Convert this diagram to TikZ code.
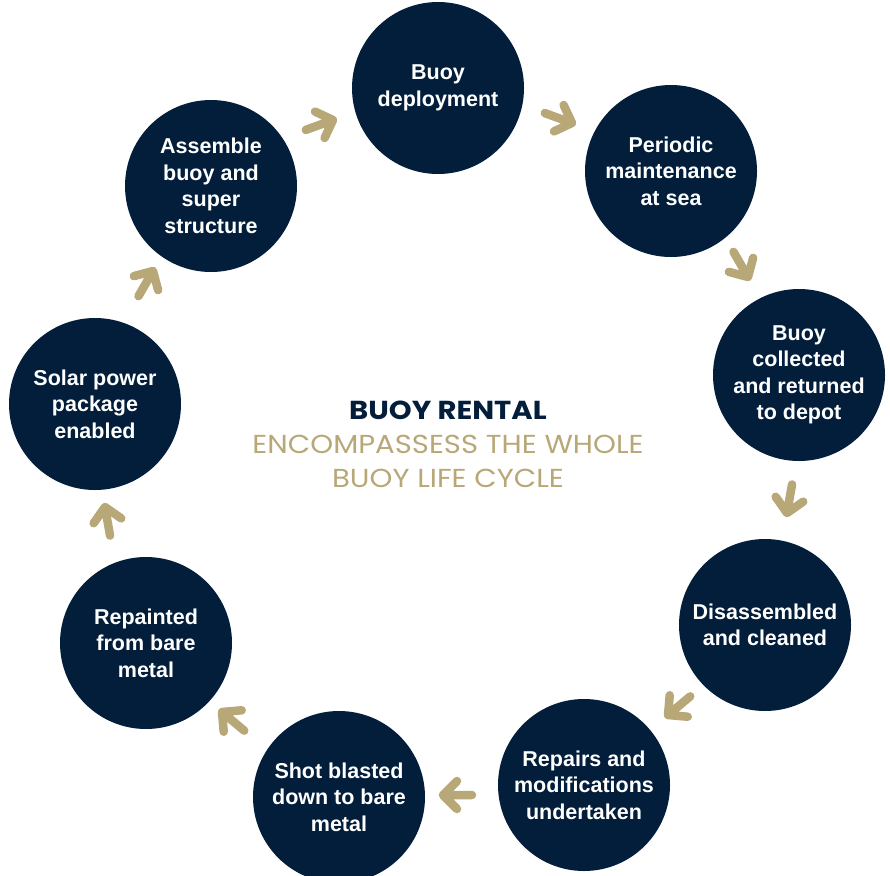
\documentclass[tikz,border=0pt]{standalone}
\usepackage{fontspec}
\setmainfont{Liberation Sans}
\newfontfamily\headfont{Poppins}
\definecolor{navy}{HTML}{021E3A}
\definecolor{tan}{HTML}{B8A878}
\tikzset{
  stage/.style={circle, fill=navy, minimum size=172pt, inner sep=0pt,
    text=white, align=center, font=\fontsize{21.5}{26.5}\selectfont\bfseries},
  chevline/.style={draw=tan, line width=8.5pt, line cap=round, line join=round},
  chev/.pic={\draw[chevline] (-29,0) -- (0,0) (-14,14) -- (0,0) -- (-14,-14);}
}
\begin{document}
\begin{tikzpicture}[x=1pt,y=-1pt]
\useasboundingbox (0,0) rectangle (890,875);
\fill[white] (0,0) rectangle (890,875);
\node[stage] (deploy) at (438,88) {Buoy\\deployment};
\node[stage] (maint) at (671,171) {Periodic\\maintenance\\at sea};
\node[stage] (collect) at (799,375) {Buoy\\collected\\and returned\\to depot};
\node[stage] (disas) at (765,625) {Disassembled\\and cleaned};
\node[stage] (repair) at (584,785) {Repairs and\\modifications\\undertaken};
\node[stage] (shot) at (339,797) {Shot blasted\\down to bare\\metal};
\node[stage] (paint) at (146,643) {Repainted\\from bare\\metal};
\node[stage] (solar) at (95,404) {Solar power\\package\\enabled};
\node[stage] (assem) at (211,186) {Assemble\\buoy and\\super\\structure};
\node[align=center, inner sep=0pt, font=\headfont\fontsize{26}{34}\selectfont] (title) at (448,444)
  {\scalebox{1.12}[1]{\textcolor{navy}{\bfseries BUOY RENTAL}}\\\scalebox{1.12}[1]{\textcolor{tan}{ENCOMPASSESS THE WHOLE}}\\\scalebox{1.12}[1]{\textcolor{tan}{BUOY LIFE CYCLE}}};
\pic[rotate=20] at (333,120) {chev};
\pic[rotate=-20] at (572,123) {chev};
\pic[rotate=-60] at (748,277) {chev};
\pic[rotate=-100] at (787,513) {chev};
\pic[rotate=-140] at (668,715) {chev};
\pic[rotate=180] at (443,795) {chev};
\pic[rotate=140] at (222,712) {chev};
\pic[rotate=100] at (105,507) {chev};
\pic[rotate=60] at (153,271) {chev};
\end{tikzpicture}
\end{document}
